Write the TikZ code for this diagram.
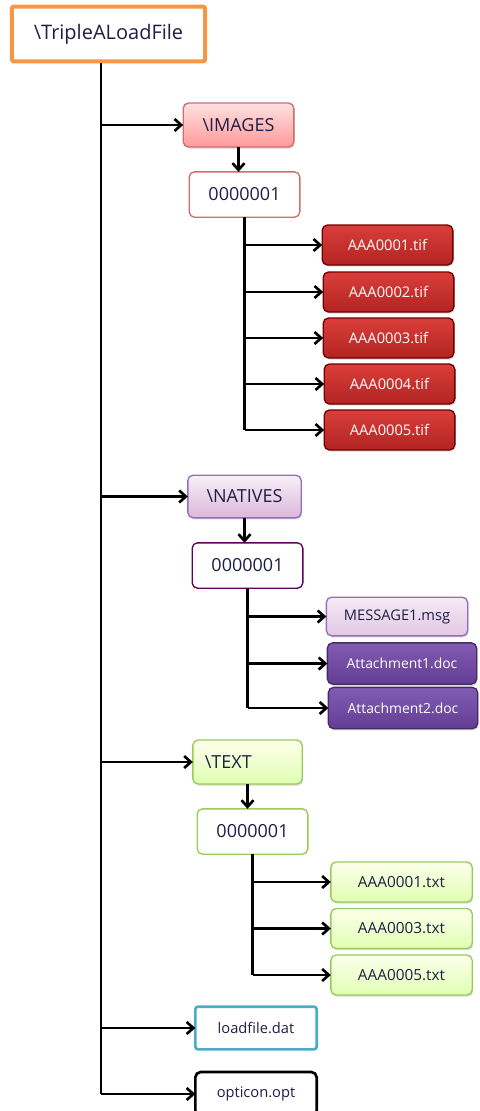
\documentclass[tikz,border=0pt]{standalone}
\usepackage{fontspec}
\setmainfont{Open Sans}
\usetikzlibrary{arrows.meta,shadows}

\definecolor{ink}{RGB}{30,30,70}
\definecolor{orng}{RGB}{247,150,70}
\definecolor{redline}{RGB}{208,110,110}
\definecolor{purpline}{RGB}{150,110,190}
\definecolor{greenline}{RGB}{150,205,90}
\definecolor{blueline}{RGB}{75,172,198}
\definecolor{tiftop}{RGB}{218,62,58}
\definecolor{tifbot}{RGB}{178,36,34}
\definecolor{doctop}{RGB}{130,92,178}
\definecolor{docbot}{RGB}{98,62,148}

\begin{document}
\begin{tikzpicture}[x=0.75pt,y=-0.75pt]
\tikzset{ >={Straight Barb[length=5pt,width=9pt]}, inner sep=0pt, outer sep=0pt,
  box/.style={draw, rounded corners=4pt, line width=1pt, text=ink,
    font=\fontsize{13.5}{15}\selectfont},
  shade/.style={drop shadow={shadow xshift=0.8pt, shadow yshift=-1.2pt, opacity=0.3}},
  redfolder/.style={box, shade, draw=redline, top color=red!12, bottom color=red!40!white},
  purpfolder/.style={box, shade, draw=purpline, top color=violet!6, bottom color=violet!28},
  greenfolder/.style={box, shade, draw=greenline, top color=green!10!yellow!8, bottom color=green!40!yellow!30},
  tifbox/.style={box, shade, draw=red!45!black, top color=tiftop, bottom color=tifbot,
    text=white, font=\fontsize{11}{12}\selectfont, minimum width=98pt, minimum height=30pt},
  docbox/.style={box, shade, draw=docbot!70!black, top color=doctop, bottom color=docbot,
    text=white, font=\fontsize{10.4}{12}\selectfont, minimum width=112pt, minimum height=31pt},
  leafbox/.style={box, font=\fontsize{11}{12}\selectfont},
  txtbox/.style={greenfolder, font=\fontsize{11.5}{12}\selectfont, minimum width=106pt, minimum height=30pt},
  link/.style={line width=2pt, ->},
}

\useasboundingbox (0,0) rectangle (479,1111);

% root
\node [draw=orng, line width=3pt, rounded corners=1.5pt, fill=white, text=ink,
  font=\fontsize{15}{17}\selectfont, minimum width=145pt, minimum height=41pt] (R) at (108.5,34) {\textbackslash TripleALoadFile};
\coordinate (T) at (101,63);

% images
\node [redfolder, minimum width=83pt, minimum height=33pt] (I) at (238.5,125) {\textbackslash IMAGES};
\node [box, draw=redline, fill=white, minimum width=83pt, minimum height=34pt] (IF) at (244.5,194.5) {0000001};
\node [tifbox] (I1) at (387.5,245) {AAA0001.tif};
\node [tifbox] (I2) at (388.5,292) {AAA0002.tif};
\node [tifbox] (I3) at (388.5,338) {AAA0003.tif};
\node [tifbox] (I4) at (389.5,384) {AAA0004.tif};
\node [tifbox] (I5) at (389.5,430) {AAA0005.tif};

% natives
\node [purpfolder, minimum width=85pt, minimum height=32pt] (N) at (244.5,496.5) {\textbackslash NATIVES};
\node [box, draw=violet!75!black, fill=white, minimum width=83pt, minimum height=34pt] (NF) at (247.5,565.5) {0000001};
\node [leafbox, shade, draw=purpline, top color=violet!8, bottom color=violet!22,
  minimum width=106pt, minimum height=29pt] (N1) at (397,616.5) {MESSAGE1.msg};
\node [docbox] (N2) at (402,663.5) {Attachment1.doc};
\node [docbox] (N3) at (403,708) {Attachment2.doc};

% text
\node [greenfolder, minimum width=82pt, minimum height=33pt, text width=64pt, align=left] (X) at (247.5,762) {\textbackslash TEXT};
\node [box, draw=greenline, fill=white, minimum width=83pt, minimum height=34pt] (XF) at (252.5,831.5) {0000001};
\node [txtbox] (X1) at (401.5,882) {AAA0001.txt};
\node [txtbox] (X2) at (401.5,928.5) {AAA0003.txt};
\node [txtbox] (X3) at (401.5,975) {AAA0005.txt};

% files
\node [leafbox, draw=blueline, line width=2pt, fill=white, rounded corners=2pt,
  minimum width=91pt, minimum height=32pt] (D) at (256,1028) {loadfile.dat};
\node [leafbox, draw=black, line width=2pt, fill=white, rounded corners=4pt,
  minimum width=91pt, minimum height=33pt] (O) at (256,1094) {opticon.opt};

% trunk
\draw [line width=2pt] (T) -- (T |- O);
\draw [link] (T |- I) -- (I);
\draw [link] (T |- N) -- (N);
\draw [link] (T |- X) -- (X);
\draw [link] (T |- D) -- (D);
\draw [link] (T |- O) -- (O);

% images branch
\draw [link] (I.south) -- (I.south |- IF.north);
\draw [line width=2pt] (IF.south) -- (IF.south |- I5);
\foreach \f in {I1,I2,I3,I4,I5}
  \draw [link] (IF.south |- \f) -- (\f);

% natives branch
\draw [link] (N.south) -- (N.south |- NF.north);
\draw [line width=2pt] (NF.south) -- (NF.south |- N3);
\foreach \f in {N1,N2,N3}
  \draw [link] (NF.south |- \f) -- (\f);

% text branch
\draw [link] (X.south) -- (X.south |- XF.north);
\draw [line width=2pt] (XF.south) -- (XF.south |- X3);
\foreach \f in {X1,X2,X3}
  \draw [link] (XF.south |- \f) -- (\f);

\end{tikzpicture}
\end{document}
